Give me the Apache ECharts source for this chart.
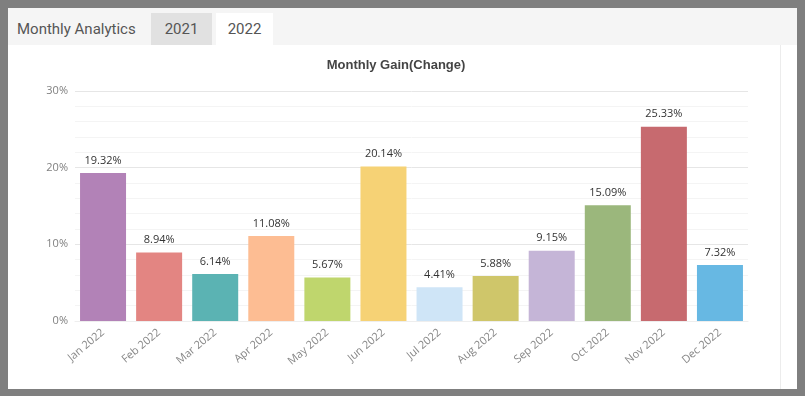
<!DOCTYPE html>
<html>
<head>
<meta charset="utf-8">
<script src="https://cdn.jsdelivr.net/npm/echarts@6/dist/echarts.min.js"></script>
<style>
  body { margin: 0; background: #7f7f7f; font-family: Roboto, sans-serif; }
  #panel { position: absolute; left: 8px; top: 8px; width: 789px; height: 381px; background: #fff; }
  #header { position: absolute; left: 0; top: 0; width: 789px; height: 37px; background: #f5f5f5; }
  .tab { position: absolute; top: 5px; height: 32px; line-height: 32px; font-size: 15px; color: #555; text-align: center; }
  #sep { position: absolute; left: 772px; top: 37px; width: 1px; height: 344px; background: #ececec; }
  #container { position: absolute; left: 0; top: 0; width: 805px; height: 396px; }
</style>
</head>
<body>
<div id="panel">
  <div id="header">
    <div class="tab" style="left:9px;text-align:left;">Monthly Analytics</div>
    <div class="tab" style="left:143px;width:61px;background:#e1e1e1;">2021</div>
    <div class="tab" style="left:208px;width:57px;background:#fff;">2022</div>
  </div>
  <div id="sep"></div>
</div>
<div id="container"></div>
<script>
// 月份和收益
var months = ['Jan 2022', 'Feb 2022', 'Mar 2022', 'Apr 2022', 'May 2022', 'Jun 2022',
              'Jul 2022', 'Aug 2022', 'Sep 2022', 'Oct 2022', 'Nov 2022', 'Dec 2022']
var gains = [19.32, 8.94, 6.14, 11.08, 5.67, 20.14, 4.41, 5.88, 9.15, 15.09, 25.33, 7.32]
var yTicks = [0, 10, 20, 30]

var palette = ['#b282b7', '#e38582', '#5bb3b3', '#fdbd93', '#bfd66d', '#f6d275',
               '#cfe5f7', '#cfc66a', '#c5b5d7', '#9bb77c', '#c76a6f', '#67b8e3']

var dom = document.getElementById('container');
var myChart = echarts.init(dom, null, { renderer: 'canvas' });
var option = {
    animation: false,
    title: {
        text: 'Monthly Gain(Change)',
        left: 391,
        textAlign: 'center',
        top: 54,
        textStyle: { fontFamily: 'Liberation Sans, Arial', fontSize: 13, fontWeight: 'bold', color: '#444' }
    },
    grid: { left: 75, right: 57, top: 91, bottom: 75 },
    xAxis: {
        type: 'category',
        data: months,
        axisLine: { show: true, lineStyle: { color: '#eeeeee' } },
        axisTick: { show: false },
        axisLabel: {
            rotate: 40,
            margin: 10,
            color: '#888',
            fontSize: 11,
            fontFamily: 'Open Sans'
        }
    },
    yAxis: {
        type: 'value',
        min: yTicks[0],
        max: yTicks[yTicks.length - 1],
        interval: 10,
        axisLabel: {
            formatter: '{value}%',
            color: '#808080',
            fontSize: 11,
            margin: 7,
            padding: [5, 0, 0, 0],
            fontFamily: 'Open Sans'
        },
        axisLine: { show: false },
        axisTick: { show: false },
        splitLine: { lineStyle: { color: '#e6e6e6' } },
        minorTick: { show: false, splitNumber: 5 },
        minorSplitLine: { show: true, lineStyle: { color: '#f4f4f4' } }
    },
    series: [
        {
            type: 'bar',
            barWidth: 46,
            data: gains.map(function (v, i) {
                return { value: v, itemStyle: { color: palette[i] } };
            }),
            label: {
                show: true,
                position: 'top',
                distance: 7,
                formatter: function (p) { return p.value.toFixed(2) + '%'; },
                color: '#333',
                fontSize: 11,
                fontFamily: 'Open Sans'
            }
        }
    ]
};
myChart.setOption(option);
window.addEventListener('resize', myChart.resize);
</script>
</body>
</html>
